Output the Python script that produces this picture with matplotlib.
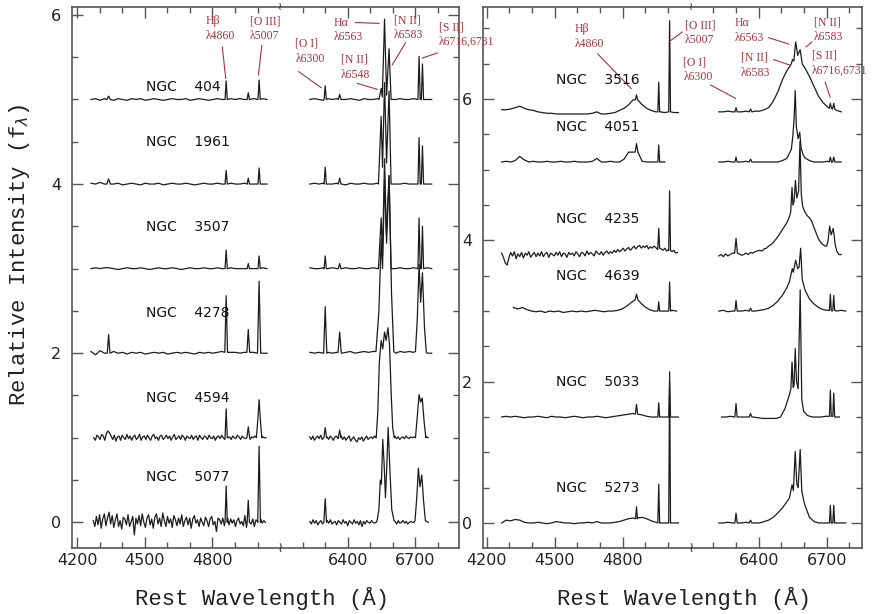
import numpy as np
import matplotlib
matplotlib.use("Agg")
import matplotlib.pyplot as plt
from matplotlib.ticker import FixedLocator, NullFormatter

# ======================= DATA =======================
# each spectrum: continuum samples on a regular wavelength grid (start, step, values)
# + narrow lines (centre, peak, half-width, base) + blended complexes [(w, f), ...]
# fluxes are relative to the spectrum's vertical offset

# ---------- left panel ----------
L_NAMES = ["NGC 404", "NGC 1961", "NGC 3507", "NGC 4278", "NGC 4594", "NGC 5077"]
L_OFFSETS = [5.0, 4.0, 3.0, 2.0, 1.0, 0.0]
L_LABEL_Y = [5.15, 4.50, 3.49, 2.48, 1.47, 0.53]

N404_BLUE = [0.00, 0.01, -0.01, 0.01, 0.02, -0.01, 0.01, 0.00, -0.01, 0.01,
             0.00, 0.01, -0.01, 0.00, 0.01, 0.00, -0.01, 0.00, 0.01, 0.00,
             0.00, 0.01, -0.01, 0.00, 0.01, 0.00, -0.01, 0.00, 0.01, 0.00,
             0.00, 0.01, 0.00, 0.01, 0.00, 0.00, 0.01, 0.00, 0.01, 0.00]
N404_BLUE_LINES = [(4340, 0.04, 8, 0.0), (4861, 0.22, 5, 0.0), (4959, 0.08, 5, 0.0), (5007, 0.23, 5, 0.0)]
N404_RED = [0.00, 0.01, 0.00, -0.01, 0.01, 0.00, 0.01, 0.00, 0.00, 0.01,
            0.00, -0.01, 0.01, 0.00, 0.00, 0.01, 0.00, 0.01, 0.00, 0.00,
            0.01, 0.00, 0.00, 0.01, 0.00, 0.01, 0.00, 0.00]
N404_RED_LINES = [(6300, 0.16, 5, 0.0), (6364, 0.06, 6, 0.0), (6716, 0.51, 5, 0.0), (6731, 0.42, 5, 0.0)]
N404_HA = [(6538, 0.0), (6548, 0.13), (6553, 0.03), (6563, 0.95), (6572, 0.05), (6583, 0.60), (6592, 0.0)]

N1961_BLUE = [0.01, 0.00, 0.02, 0.00, 0.02, 0.00, 0.01, -0.01, 0.00, 0.01,
              0.00, -0.01, 0.01, 0.00, 0.00, 0.01, -0.01, 0.00, 0.01, 0.00,
              0.00, 0.01, 0.00, -0.01, 0.00, 0.01, 0.00, 0.00, 0.01, 0.00,
              0.00, 0.01, 0.00, 0.00, 0.01, 0.00, 0.00, 0.01, 0.00, 0.00]
N1961_BLUE_LINES = [(4340, 0.06, 8, 0.0), (4861, 0.16, 5, 0.0), (4959, 0.07, 5, 0.0), (5007, 0.19, 5, 0.0)]
N1961_RED = [0.00, 0.01, 0.00, 0.01, 0.00, 0.00, 0.01, 0.00, -0.01, 0.01,
             0.00, 0.00, 0.01, 0.00, 0.00, 0.01, 0.00, 0.00, 0.01, 0.00,
             0.00, 0.01, 0.00, 0.00, 0.01, 0.00, 0.00, 0.00]
N1961_RED_LINES = [(6300, 0.20, 5, 0.0), (6364, 0.07, 6, 0.0), (6716, 0.55, 5, 0.0), (6731, 0.45, 5, 0.0)]
N1961_HA = [(6536, 0.0), (6548, 0.80), (6554, 0.20), (6563, 1.20), (6572, 0.25), (6583, 1.10), (6592, 0.0)]

N3507_BLUE = [0.00, 0.01, 0.00, 0.01, 0.01, 0.00, -0.01, 0.00, 0.01, 0.00,
              0.00, 0.01, 0.00, -0.01, 0.00, 0.01, 0.00, 0.00, 0.01, 0.00,
              -0.01, 0.00, 0.01, 0.00, 0.00, 0.01, 0.00, 0.00, 0.01, 0.00,
              0.00, 0.01, 0.00, 0.00, 0.00, 0.01, 0.00, 0.00, 0.01, 0.00]
N3507_BLUE_LINES = [(4861, 0.22, 5, 0.0), (4959, 0.06, 5, 0.0), (5007, 0.15, 5, 0.0)]
N3507_RED = [0.01, 0.00, 0.00, 0.01, 0.00, 0.01, 0.00, 0.00, 0.01, 0.00,
             0.00, 0.01, 0.00, 0.00, 0.01, 0.00, 0.00, 0.01, 0.00, 0.00,
             0.01, 0.00, 0.00, 0.01, 0.00, 0.00, 0.01, 0.00]
N3507_RED_LINES = [(6300, 0.15, 5, 0.0), (6364, 0.06, 6, 0.0), (6716, 0.60, 5, 0.0), (6731, 0.50, 5, 0.0)]
N3507_HA = [(6536, 0.0), (6548, 0.60), (6554, 0.15), (6563, 1.30), (6572, 0.30), (6583, 1.10), (6592, 0.0)]

N4278_BLUE = [0.02, -0.02, 0.03, 0.00, -0.01, 0.02, 0.00, 0.01, -0.01, 0.01,
              0.00, 0.01, -0.01, 0.00, 0.01, 0.00, 0.01, -0.01, 0.00, 0.01,
              0.00, 0.01, 0.00, -0.01, 0.01, 0.00, 0.01, 0.00, 0.01, 0.02,
              0.02, 0.01, 0.01, 0.00, 0.01, 0.00, 0.01, 0.00, 0.00, 0.00]
N4278_BLUE_LINES = [(4340, 0.22, 6, 0.0), (4861, 0.68, 6, 0.01), (4959, 0.28, 6, 0.01), (5007, 0.85, 7, 0.0)]
N4278_RED = [0.01, 0.00, 0.01, 0.00, 0.01, 0.00, 0.01, 0.00, 0.01, 0.02,
             0.00, 0.01, 0.02, 0.01, 0.02, 0.03, 0.00, 0.00, 0.00, 0.00,
             0.02, 0.01, 0.02, 0.01, 0.00, 0.00, 0.00, 0.00]
N4278_RED_LINES = [(6300, 0.55, 7, 0.0), (6364, 0.25, 7, 0.01)]
N4278_HA = [(6525, 0.02), (6538, 0.50), (6548, 1.35), (6554, 1.00), (6563, 2.05), (6571, 1.40),
            (6583, 2.10), (6594, 0.70), (6604, 0.02)]
N4278_SII = [(6700, 0.02), (6708, 0.40), (6716, 1.05), (6723, 0.60), (6731, 0.95), (6740, 0.30), (6748, 0.01)]

N4594_BLUE = [0.00, -0.03, 0.03, 0.01, -0.02, 0.04, 0.02, -0.03, 0.05, 0.08,
              0.06, 0.02, -0.02, 0.03, -0.04, 0.01, 0.02, -0.03, 0.03, 0.00,
              -0.02, 0.04, -0.01, 0.02, -0.03, 0.01, 0.03, -0.02, 0.00, 0.04,
              -0.03, 0.01, 0.02, -0.02, 0.03, 0.00, -0.03, 0.02, 0.04, -0.01,
              0.01, -0.03, 0.02, 0.03, -0.02, 0.00, 0.03, -0.01, 0.02, -0.03,
              0.01, 0.04, -0.02, 0.00, 0.02, -0.02, 0.03, 0.01, -0.03, 0.02,
              0.00, -0.01, 0.03, -0.02, 0.01, 0.02, -0.03, 0.03, 0.00, -0.02,
              0.02, 0.01, -0.02, 0.03, 0.00, -0.01, 0.02, -0.03, 0.01, 0.02,
              -0.01, 0.03, 0.00, -0.02, 0.02, 0.00, 0.01, -0.02, 0.02, 0.00,
              -0.01, 0.03, 0.01, -0.02, 0.02, 0.00, -0.01, 0.02, 0.01, -0.02,
              0.01, 0.00, 0.02, -0.01, 0.01, 0.00, -0.02, 0.01, 0.00, 0.00]
N4594_BLUE_LINES = [(4861, 0.34, 5, 0.0), (4959, 0.13, 6, 0.0)]
N4594_OIII = [(4995, 0.0), (5001, 0.20), (5007, 0.45), (5013, 0.20), (5019, 0.0)]
N4594_RED = [0.01, -0.02, 0.02, -0.03, 0.00, 0.02, -0.01, 0.03, -0.02, 0.01,
             0.00, 0.01, -0.02, 0.02, 0.00, -0.03, 0.01, 0.02, -0.01, 0.00,
             0.02, -0.02, 0.01, -0.03, 0.00, 0.02, -0.04, -0.01, 0.01, -0.03,
             -0.05, 0.00, -0.02, 0.01, -0.04, -0.01, 0.02, -0.02, 0.00, 0.01,
             -0.01, 0.02, 0.00, 0.00, 0.00, 0.00, 0.00, 0.00, 0.00, 0.00,
             0.00, 0.00, 0.00, 0.00, 0.02, -0.01, 0.01, -0.02, 0.00, 0.01,
             -0.01, 0.02, 0.00, -0.01, 0.01, 0.00, 0.01, 0.00, 0.00, 0.00,
             0.00, 0.00, 0.00, 0.00, 0.01, 0.00]
N4594_RED_LINES = [(6300, 0.12, 6, 0.0), (6364, 0.09, 6, 0.0)]
N4594_HA = [(6526, 0.0), (6533, 0.30), (6540, 0.90), (6548, 1.15), (6555, 1.05), (6563, 1.25), (6570, 1.15),
            (6578, 1.30), (6585, 1.10), (6592, 0.55), (6599, 0.12), (6606, 0.0)]
N4594_SII = [(6700, 0.0), (6708, 0.25), (6716, 0.51), (6723, 0.42), (6730, 0.47), (6738, 0.20), (6746, 0.0)]

N5077_BLUE = [0.02, -0.05, 0.07, -0.03, 0.09, -0.07, 0.04, 0.10, -0.04, 0.05,
              0.12, -0.02, 0.08, -0.06, 0.03, 0.10, -0.05, 0.02, -0.08, 0.06,
              0.04, -0.03, 0.09, -0.05, 0.01, 0.07, -0.15, 0.05, -0.02, 0.08,
              -0.04, 0.10, 0.00, -0.06, 0.05, 0.09, -0.03, 0.04, -0.07, 0.06,
              0.10, -0.02, 0.05, -0.05, 0.11, 0.02, -0.05, 0.07, -0.01, 0.04,
              -0.06, 0.08, 0.03, -0.04, 0.05, -0.02, 0.09, -0.05, 0.02, 0.06,
              -0.03, 0.05, -0.07, 0.04, 0.08, -0.01, 0.03, -0.05, 0.05, 0.00,
              -0.04, 0.06, 0.02, -0.05, 0.04, 0.07, -0.03, 0.01, -0.11, 0.05,
              0.03, -0.02, 0.05, -0.04, 0.02, 0.05, -0.03, 0.04, -0.01, 0.03,
              -0.05, 0.02, 0.05, -0.02, 0.01, -0.04, 0.08, -0.06, 0.03, 0.00,
              -0.02, 0.04, -0.05, 0.03, 0.01, -0.03, 0.04, -0.01, 0.02, 0.00]
N5077_BLUE_LINES = [(4861, 0.43, 5, 0.0), (4959, 0.26, 5, 0.0), (5007, 0.90, 6, 0.0)]
N5077_RED = [0.01, -0.02, 0.03, -0.01, 0.02, -0.03, 0.00, 0.02, -0.02, 0.01,
             0.00, 0.02, -0.01, 0.03, -0.02, 0.00, 0.01, -0.03, 0.02, 0.00,
             -0.02, 0.03, -0.01, 0.01, -0.04, 0.02, 0.00, -0.02, 0.03, -0.01,
             0.01, -0.03, 0.02, -0.05, 0.01, -0.02, 0.02, 0.00, -0.01, 0.02,
             0.00, -0.01, 0.00, 0.00, 0.00, 0.00, 0.00, 0.00, 0.00, 0.00,
             0.00, 0.00, 0.00, 0.00, 0.01, -0.02, 0.02, -0.01, 0.00, 0.02,
             -0.01, 0.01, -0.02, 0.00, 0.01, 0.00, 0.00, 0.00, 0.00, 0.00,
             0.00, 0.00, 0.00, -0.01, 0.01, 0.00]
N5077_RED_LINES = [(6300, 0.28, 6, 0.0)]
N5077_HA = [(6530, 0.02), (6538, 0.15), (6544, 0.50), (6549, 0.45), (6555, 0.98), (6561, 0.70), (6567, 0.29),
            (6572, 0.60), (6579, 1.12), (6587, 0.60), (6595, 0.15), (6605, 0.02)]
N5077_SII = [(6698, 0.02), (6706, 0.30), (6713, 0.64), (6720, 0.42), (6728, 0.56), (6736, 0.25), (6744, 0.02)]

# ---------- right panel ----------
R_NAMES = ["NGC 3516", "NGC 4051", "NGC 4235", "NGC 4639", "NGC 5033", "NGC 5273"]
R_OFFSETS = [5.82, 5.11, 3.80, 3.00, 1.50, 0.00]
R_LABEL_Y = [6.27, 5.61, 4.31, 3.49, 2.00, 0.49]

N3516_BLUE = [0.03, 0.03, 0.04, 0.06, 0.08, 0.05, 0.03, 0.02, 0.00, -0.01,
              -0.02, -0.02, -0.03, -0.03, -0.03, -0.03, -0.03, -0.03, -0.03, -0.03,
              -0.02, 0.00, -0.03, -0.03, -0.02, -0.01, 0.02, 0.05, 0.10, 0.17,
              0.18, 0.10, 0.05, 0.02, 0.00, 0.00, -0.01, 0.00, -0.01, -0.01]
N3516_BLUE_LINES = [(4861, 0.24, 5, 0.17), (4959, 0.42, 4, 0.0), (5007, 1.29, 4, 0.0)]
N3516_RED = [0.00, 0.00, 0.01, 0.00, 0.00, 0.00, 0.01, 0.00, 0.01, 0.01,
             0.03, 0.06, 0.15, 0.28, 0.45, 0.58, 0.68, 0.80, 0.85, 0.62,
             0.50, 0.36, 0.22, 0.13, 0.07, 0.05, 0.02, 0.00]
N3516_RED_LINES = [(6300, 0.06, 5, 0.0), (6364, 0.04, 6, 0.0), (6716, 0.12, 5, 0.05), (6731, 0.12, 5, 0.04)]
N3516_HA = [(6544, 0.68), (6549, 0.74), (6555, 0.72), (6563, 0.99), (6572, 0.80), (6583, 0.88), (6592, 0.68)]

N4051_BLUE = [0.00, 0.01, 0.00, 0.02, 0.08, 0.03, 0.00, 0.01, 0.00, 0.00,
              0.01, 0.00, 0.00, 0.01, 0.00, 0.00, 0.01, 0.00, 0.00, 0.00,
              0.01, 0.05, 0.00, 0.00, 0.01, 0.00, 0.00, 0.04, 0.14, 0.14,
              0.04, 0.01, 0.00, 0.00, 0.00, 0.00, 0.00]
N4051_BLUE_LINES = [(4861, 0.26, 6, 0.14), (4959, 0.24, 4, 0.0)]
N4051_RED = [0.00, 0.00, 0.01, 0.00, 0.00, 0.00, 0.01, 0.00, 0.00, 0.00,
             0.00, 0.00, 0.00, 0.00, 0.02, 0.05, 0.18, 0.00, 0.00, 0.06,
             0.02, 0.00, 0.00, 0.00, 0.01, 0.00, 0.00, 0.00]
N4051_RED_LINES = [(6300, 0.07, 5, 0.0), (6364, 0.04, 6, 0.0), (6716, 0.07, 5, 0.0), (6731, 0.07, 5, 0.0)]
N4051_HA = [(6544, 0.18), (6550, 0.35), (6556, 0.60), (6561, 1.01), (6566, 0.50), (6574, 0.33),
            (6581, 0.42), (6587, 0.20), (6596, 0.10)]

N4235_BLUE = [0.02, -0.04, -0.12, -0.15, -0.05, 0.03, -0.02, 0.04, -0.06, 0.01,
              -0.03, 0.03, -0.05, 0.02, -0.01, 0.04, -0.04, 0.00, 0.03, -0.03,
              0.02, -0.02, 0.04, -0.03, 0.01, 0.03, -0.04, 0.02, 0.00, -0.02,
              0.03, -0.01, 0.04, -0.03, 0.02, 0.01, -0.04, 0.03, 0.00, 0.02,
              -0.02, 0.04, 0.01, -0.03, 0.03, 0.02, -0.02, 0.05, 0.00, 0.03,
              0.01, -0.02, 0.05, 0.02, 0.00, 0.04, -0.01, 0.03, 0.05, 0.01,
              0.04, 0.02, 0.06, 0.03, 0.07, 0.04, 0.06, 0.09, 0.05, 0.08,
              0.10, 0.06, 0.09, 0.12, 0.08, 0.11, 0.13, 0.09, 0.12, 0.10,
              0.13, 0.08, 0.11, 0.09, 0.12, 0.10, 0.07, 0.10, 0.08, 0.06,
              0.09, 0.05, 0.07, 0.10, 0.04, 0.06, 0.02, 0.03]
N4235_BLUE_LINES = [(4959, 0.37, 4, 0.09), (5007, 0.90, 4, 0.06)]
N4235_RED = [-0.02, 0.00, -0.03, 0.01, -0.02, 0.00, 0.02, 0.05, 0.06, 0.01,
             -0.01, 0.00, 0.02, 0.00, 0.03, 0.02, 0.04, 0.05, 0.06, 0.05,
             0.08, 0.09, 0.12, 0.14, 0.17, 0.21, 0.25, 0.30, 0.35, 0.40,
             0.45, 0.52, 0.00, 0.00, 0.00, 0.00, 0.00, 0.00, 0.60, 0.55,
             0.52, 0.47, 0.38, 0.30, 0.22, 0.17, 0.14, 0.12, 0.15, 0.00,
             0.00, 0.00, 0.05, 0.00, 0.00]
N4235_RED_LINES = [(6300, 0.23, 6, 0.02)]
N4235_HA = [(6534, 0.52), (6541, 0.60), (6547, 0.95), (6551, 0.70), (6556, 0.75), (6562, 1.05),
            (6568, 0.80), (6576, 0.90), (6582, 1.60), (6588, 0.85), (6594, 0.68)]
N4235_SII = [(6700, 0.12), (6706, 0.20), (6713, 0.40), (6720, 0.28), (6729, 0.37), (6737, 0.15), (6744, 0.05)]

N4639_BLUE = [0.05, 0.03, 0.05, 0.02, 0.00, -0.01, 0.00, -0.02, 0.00, -0.01,
              0.00, -0.02, -0.01, 0.00, -0.01, 0.00, -0.01, 0.00, 0.01, 0.00,
              -0.01, 0.00, 0.00, 0.01, 0.03, 0.07, 0.12, 0.16, 0.12, 0.06,
              0.02, 0.00, 0.00, 0.00, 0.00, 0.01, 0.00]
N4639_BLUE_LINES = [(4861, 0.24, 6, 0.16), (4959, 0.13, 4, 0.0), (5007, 0.41, 4, 0.0)]
N4639_RED = [0.00, 0.01, -0.01, 0.00, 0.00, 0.00, 0.01, 0.00, 0.00, 0.01,
             0.02, 0.04, 0.08, 0.14, 0.22, 0.33, 0.00, 0.00, 0.00, 0.30,
             0.17, 0.10, 0.05, 0.02, 0.01, 0.00, 0.00, 0.01, 0.00]
N4639_RED_LINES = [(6300, 0.15, 5, 0.0), (6364, 0.04, 6, 0.0), (6716, 0.24, 4, 0.01), (6731, 0.22, 4, 0.01)]
N4639_HA = [(6536, 0.42), (6548, 0.60), (6553, 0.55), (6563, 0.72), (6572, 0.60), (6578, 0.62),
            (6585, 0.89), (6592, 0.45), (6600, 0.35)]

N5033_BLUE = [0.00, 0.01, 0.00, 0.01, 0.00, -0.01, 0.00, 0.00, 0.01, 0.00,
              -0.01, 0.01, 0.00, 0.00, -0.01, 0.00, 0.01, 0.00, -0.01, 0.00,
              0.00, 0.01, 0.00, -0.01, 0.00, 0.01, 0.02, 0.03, 0.04, 0.05,
              0.04, 0.03, 0.01, 0.00, 0.00, 0.00, 0.00, 0.00, 0.00, 0.00]
N5033_BLUE_LINES = [(4861, 0.18, 5, 0.04), (4959, 0.20, 4, 0.0), (5007, 0.50, 4, 0.0)]
N5033_RED = [0.00, 0.00, 0.01, 0.00, 0.00, 0.00, 0.00, 0.00, -0.01, -0.02,
             -0.02, -0.02, -0.02, 0.00, 0.12, 0.30, 0.00, 0.00, 0.00, 0.02,
             0.00, 0.00, 0.00, 0.01, 0.00, 0.00, 0.00]
N5033_RED_LINES = [(6300, 0.19, 5, 0.0), (6364, 0.05, 6, 0.0), (6716, 0.38, 4, 0.01), (6731, 0.34, 4, 0.01)]
N5033_HA = [(6536, 0.32), (6542, 0.40), (6547, 0.78), (6552, 0.42), (6556, 0.45), (6561, 0.97),
            (6567, 0.50), (6574, 0.40), (6583, 1.80), (6590, 0.25), (6598, 0.08)]

N5273_BLUE = [0.00, 0.04, 0.03, 0.05, 0.04, 0.01, 0.00, 0.00, 0.01, 0.00,
              -0.01, 0.00, 0.02, 0.01, 0.00, 0.00, -0.01, 0.00, 0.00, 0.01,
              0.00, 0.02, 0.00, 0.00, 0.00, 0.01, 0.02, 0.04, 0.06, 0.07,
              0.07, 0.08, 0.06, 0.03, 0.01, 0.00, 0.00, 0.00, 0.00, 0.00]
N5273_BLUE_LINES = [(4861, 0.23, 4, 0.06), (4959, 0.55, 4, 0.0), (5007, 2.14, 4, 0.0)]
N5273_RED = [0.00, 0.00, 0.01, 0.00, 0.00, 0.00, 0.01, 0.00, 0.00, 0.00,
             0.02, 0.04, 0.08, 0.14, 0.21, 0.30, 0.00, 0.00, 0.00, 0.25,
             0.08, 0.02, 0.00, 0.00, 0.00, 0.00, 0.00, 0.00, 0.00]
N5273_RED_LINES = [(6300, 0.14, 5, 0.0), (6364, 0.04, 6, 0.0), (6716, 0.25, 4, 0.0), (6731, 0.25, 4, 0.0)]
N5273_HA = [(6536, 0.36), (6547, 0.54), (6553, 0.46), (6561, 1.01), (6568, 0.55), (6574, 0.50),
            (6583, 1.04), (6590, 0.45), (6600, 0.30)]

# grid: (blue start, blue step, red start, red step)
L_GRIDS = [(4262, 20, 6232, 20), (4262, 20, 6232, 20), (4262, 20, 6232, 20),
           (4262, 20, 6232, 20), (4274, 7, 6231, 7), (4272, 7, 6232, 7)]
R_GRIDS = [(4266, 20, 6224, 20), (4266, 20, 6224, 20), (4266, 8, 6224, 10),
           (4318, 20, 6224, 20), (4266, 20, 6236, 20), (4266, 20, 6224, 20)]

L_SPECTRA = [
    (N404_BLUE, N404_BLUE_LINES, [], N404_RED, N404_RED_LINES, [N404_HA]),
    (N1961_BLUE, N1961_BLUE_LINES, [], N1961_RED, N1961_RED_LINES, [N1961_HA]),
    (N3507_BLUE, N3507_BLUE_LINES, [], N3507_RED, N3507_RED_LINES, [N3507_HA]),
    (N4278_BLUE, N4278_BLUE_LINES, [], N4278_RED, N4278_RED_LINES, [N4278_HA, N4278_SII]),
    (N4594_BLUE, N4594_BLUE_LINES, [N4594_OIII], N4594_RED, N4594_RED_LINES, [N4594_HA, N4594_SII]),
    (N5077_BLUE, N5077_BLUE_LINES, [], N5077_RED, N5077_RED_LINES, [N5077_HA, N5077_SII]),
]
R_SPECTRA = [
    (N3516_BLUE, N3516_BLUE_LINES, [], N3516_RED, N3516_RED_LINES, [N3516_HA]),
    (N4051_BLUE, N4051_BLUE_LINES, [], N4051_RED, N4051_RED_LINES, [N4051_HA]),
    (N4235_BLUE, N4235_BLUE_LINES, [], N4235_RED, N4235_RED_LINES, [N4235_HA, N4235_SII]),
    (N4639_BLUE, N4639_BLUE_LINES, [], N4639_RED, N4639_RED_LINES, [N4639_HA]),
    (N5033_BLUE, N5033_BLUE_LINES, [], N5033_RED, N5033_RED_LINES, [N5033_HA]),
    (N5273_BLUE, N5273_BLUE_LINES, [], N5273_RED, N5273_RED_LINES, [N5273_HA]),
]

# annotations: text, (w, y) of text left/centre, pointer from (w, y) to (w, y)
L_ANN_TEXT = ["H\u03b2\n\u03bb4860", "[O III]\n\u03bb5007", "[O I]\n\u03bb6300", "H\u03b1\n\u03bb6563",
              "[N II]\n\u03bb6548", "[N II]\n\u03bb6583", "[S II]\n\u03bb6716,6731"]
L_ANN_XY = [(4770, 5.84), (4966, 5.84), (6168, 5.57), (6336, 5.82), (6368, 5.38), (6603, 5.85), (6803, 5.77)]
L_ANN_PTR = [((4844, 5.62), (4859, 5.25)), ((5019, 5.64), (5004, 5.29)), ((6182, 5.33), (6282, 5.14)),
             ((6434, 5.91), (6538, 5.90)), ((6442, 5.19), (6531, 5.12)), ((6656, 5.67), (6597, 5.41)),
             ((6797, 5.55), (6731, 5.49))]
R_ANN_TEXT = ["H\u03b2\n\u03bb4860", "[O III]\n\u03bb5007", "[O I]\n\u03bb6300", "H\u03b1\n\u03bb6563",
              "[N II]\n\u03bb6583", "[N II]\n\u03bb6583", "[S II]\n\u03bb6716,6731"]
R_ANN_XY = [(4588, 6.89), (5075, 6.94), (5068, 6.42), (6293, 6.97), (6320, 6.48), (6645, 6.98), (6634, 6.51)]
R_ANN_PTR = [((4690, 6.64), (4837, 6.15)), ((5063, 6.95), (5012, 6.83)), ((6188, 6.20), (6298, 6.01)),
             ((6444, 6.87), (6532, 6.78)), ((6466, 6.56), (6539, 6.48)), ((6635, 6.81), (6609, 6.74)),
             ((6693, 6.24), (6715, 6.03))]

X_MAJOR = [4200, 4500, 4800, 6400, 6700]
X_MINOR = [4300, 4400, 4600, 4700, 4900, 5000, 6200, 6300, 6500, 6600, 6800]
X_BREAK = 5100
Y_MAJOR = [0, 2, 4, 6]

# ======================= DRAWING =======================
def fwd(w):
    w = np.asarray(w, dtype=float)
    return np.where(w <= 5100, w, np.where(w >= 6100, w - 1000.0, 5100.0))


def inv(x):
    x = np.asarray(x, dtype=float)
    return np.where(x <= 5100, x, x + 1000.0)


def build(start, step, vals, lines, blends):
    w = start + step * np.arange(len(vals), dtype=float)
    f = np.asarray(vals, dtype=float)
    keep = np.ones(len(w), bool)
    kw, kf = [], []
    for c, p, hw, b in lines:
        keep &= ~((w >= c - hw) & (w <= c + hw))
        kw += [c - hw, c, c + hw]
        kf += [b, p, b]
    for bl in blends:
        bw = [q[0] for q in bl]
        keep &= ~((w >= min(bw)) & (w <= max(bw)))
        kw += bw
        kf += [q[1] for q in bl]
    W = np.concatenate([w[keep], np.array(kw, float)])
    F = np.concatenate([f[keep], np.array(kf, float)])
    o = np.argsort(W, kind="stable")
    return W[o], F[o]


RED = "#a8323e"
INK = "#1c1c1c"
SPINE = "#555555"

fig = plt.figure(figsize=(8.72, 6.14), dpi=100)
axR = fig.add_axes([0.5542, 0.1080, 0.4339, 0.8801])
axL = fig.add_axes([0.0829, 0.1080, 0.4440, 0.8801])
axL.set_zorder(2)
axR.set_zorder(1)
axL.patch.set_alpha(0.0)


def setup(ax, xlim, ylim, yminor):
    ax.set_xscale("function", functions=(fwd, inv))
    ax.set_xlim(*xlim)
    ax.set_ylim(*ylim)
    ax.xaxis.set_major_locator(FixedLocator(X_MAJOR))
    ax.xaxis.set_minor_locator(FixedLocator(X_MINOR))
    ax.xaxis.set_minor_formatter(NullFormatter())
    ax.set_xticklabels([str(v) for v in X_MAJOR])
    ax.yaxis.set_major_locator(FixedLocator(Y_MAJOR))
    ax.yaxis.set_minor_locator(FixedLocator(yminor))
    ax.set_yticklabels([str(v) for v in Y_MAJOR])
    ax.tick_params(which="both", direction="in", top=True, right=True, color=SPINE, width=1.0,
                   labelsize=11.5, labelcolor="#222222")
    ax.tick_params(which="major", length=8)
    ax.tick_params(which="minor", length=4.5)
    ax.tick_params(axis="x", which="both", pad=4)
    ax.tick_params(axis="y", which="both", pad=8)
    for s in ax.spines.values():
        s.set_color(SPINE)
        s.set_linewidth(1.2)
    ax.text(X_BREAK, 0.0, "\u2240", transform=ax.get_xaxis_transform(), ha="center", va="center",
            fontsize=10, family="DejaVu Sans", color="#333333", clip_on=False, zorder=6)
    ax.text(X_BREAK, 1.0, "\u2240", transform=ax.get_xaxis_transform(), ha="center", va="center",
            fontsize=8, family="DejaVu Sans", color="#333333", clip_on=False, zorder=6)


def draw_panel(ax, spectra, grids, offsets, names, label_y, ann_text, ann_xy, ann_ptr):
    for (bv, bl, bb, rv, rl, rb), (bs, bst, rs, rst), off, nm, ly in zip(spectra, grids, offsets, names, label_y):
        w, f = build(bs, bst, bv, bl, bb)
        ax.plot(w, f + off, color=INK, lw=0.9)
        w, f = build(rs, rst, rv, rl, rb)
        ax.plot(w, f + off, color=INK, lw=0.9)
        ax.text(4504, ly, nm.replace(" ", "    "), fontsize=10, family="DejaVu Sans",
                ha="left", va="center", color="#111111")
    for t, (x, y), (p0, p1) in zip(ann_text, ann_xy, ann_ptr):
        ax.text(x, y, t, fontsize=8.5, family="Liberation Serif", color=RED, ha="left", va="center",
                linespacing=1.3, clip_on=False, zorder=7)
        ax.plot([p0[0], p1[0]], [p0[1], p1[1]], color=RED, lw=0.8, clip_on=False)


setup(axL, (4179, 6895), (-0.30, 6.09), [v * 0.5 for v in range(1, 12) if v % 4])
setup(axR, (4185, 6854), (-0.35, 7.30), [v * 0.5 for v in range(1, 15) if v % 4])
draw_panel(axL, L_SPECTRA, L_GRIDS, L_OFFSETS, L_NAMES, L_LABEL_Y, L_ANN_TEXT, L_ANN_XY, L_ANN_PTR)
draw_panel(axR, R_SPECTRA, R_GRIDS, R_OFFSETS, R_NAMES, R_LABEL_Y, R_ANN_TEXT, R_ANN_XY, R_ANN_PTR)

axL.text(0.489, -0.093, "Rest Wavelength (\u00c5)", transform=axL.transAxes, ha="center", va="center",
         fontsize=16, family="Liberation Mono", color="#222222")
axR.text(0.530, -0.093, "Rest Wavelength (\u00c5)", transform=axR.transAxes, ha="center", va="center",
         fontsize=16, family="Liberation Mono", color="#222222")
fig.text(20 / 872, 1 - 255 / 614, "Relative Intensity (f$_\\lambda$)", rotation=90, ha="center", va="center",
         fontsize=16, family="Liberation Mono", color="#222222")

fig.savefig("out.png", dpi=100)
